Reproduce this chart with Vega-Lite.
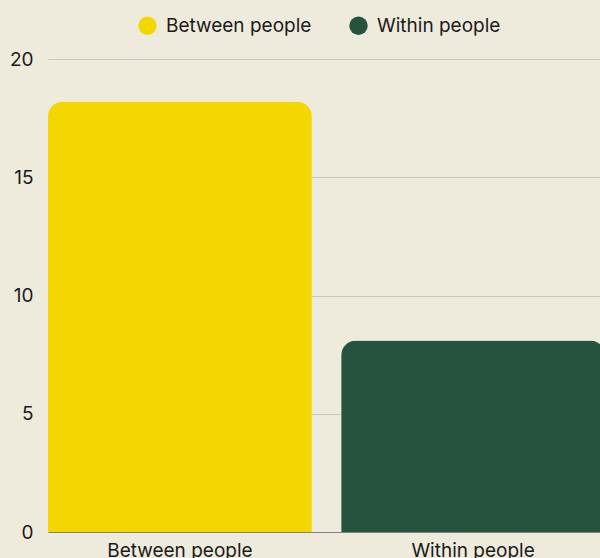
{
  "$schema": "https://vega.github.io/schema/vega-lite/v6.json",
  "autosize": "none",
  "width": 557,
  "height": 473,
  "padding": {"left": 48, "top": 59, "right": 0, "bottom": 26},
  "background": "#EEEBDC",
  "config": {
    "font": "Inter",
    "view": {"stroke": null},
    "axis": {"labelFont": "Inter", "labelFontSize": 19, "labelColor": "#1a1a1a"},
    "legend": {"labelFont": "Inter", "labelFontSize": 19, "labelColor": "#1a1a1a"}
  },
  "data": {
    "values": [
      {"group": "Between people", "value": 18.2},
      {"group": "Within people", "value": 8.1}
    ]
  },
  "mark": {"type": "bar", "cornerRadiusTopLeft": 15, "cornerRadiusTopRight": 15},
  "encoding": {
    "x": {
      "field": "group",
      "type": "nominal",
      "sort": null,
      "scale": {"paddingInner": 0.1, "paddingOuter": 0},
      "axis": {"title": null, "labelAngle": 0, "ticks": false, "domainColor": "#808080", "labelPadding": 9}
    },
    "y": {
      "field": "value",
      "type": "quantitative",
      "scale": {"domain": [0, 20]},
      "axis": {"title": null, "values": [0, 5, 10, 15, 20], "ticks": false, "domain": false, "gridColor": "#CDC9B6", "labelPadding": 15}
    },
    "color": {
      "field": "group",
      "type": "nominal",
      "scale": {"domain": ["Between people", "Within people"], "range": ["#F4D600", "#25533E"]},
      "legend": {
        "title": null,
        "orient": "none",
        "legendX": 90,
        "legendY": -43,
        "direction": "horizontal",
        "symbolType": "circle",
        "symbolSize": 340,
        "symbolStrokeWidth": 0,
        "labelOffset": 9,
        "columnPadding": 37
      }
    }
  }
}
